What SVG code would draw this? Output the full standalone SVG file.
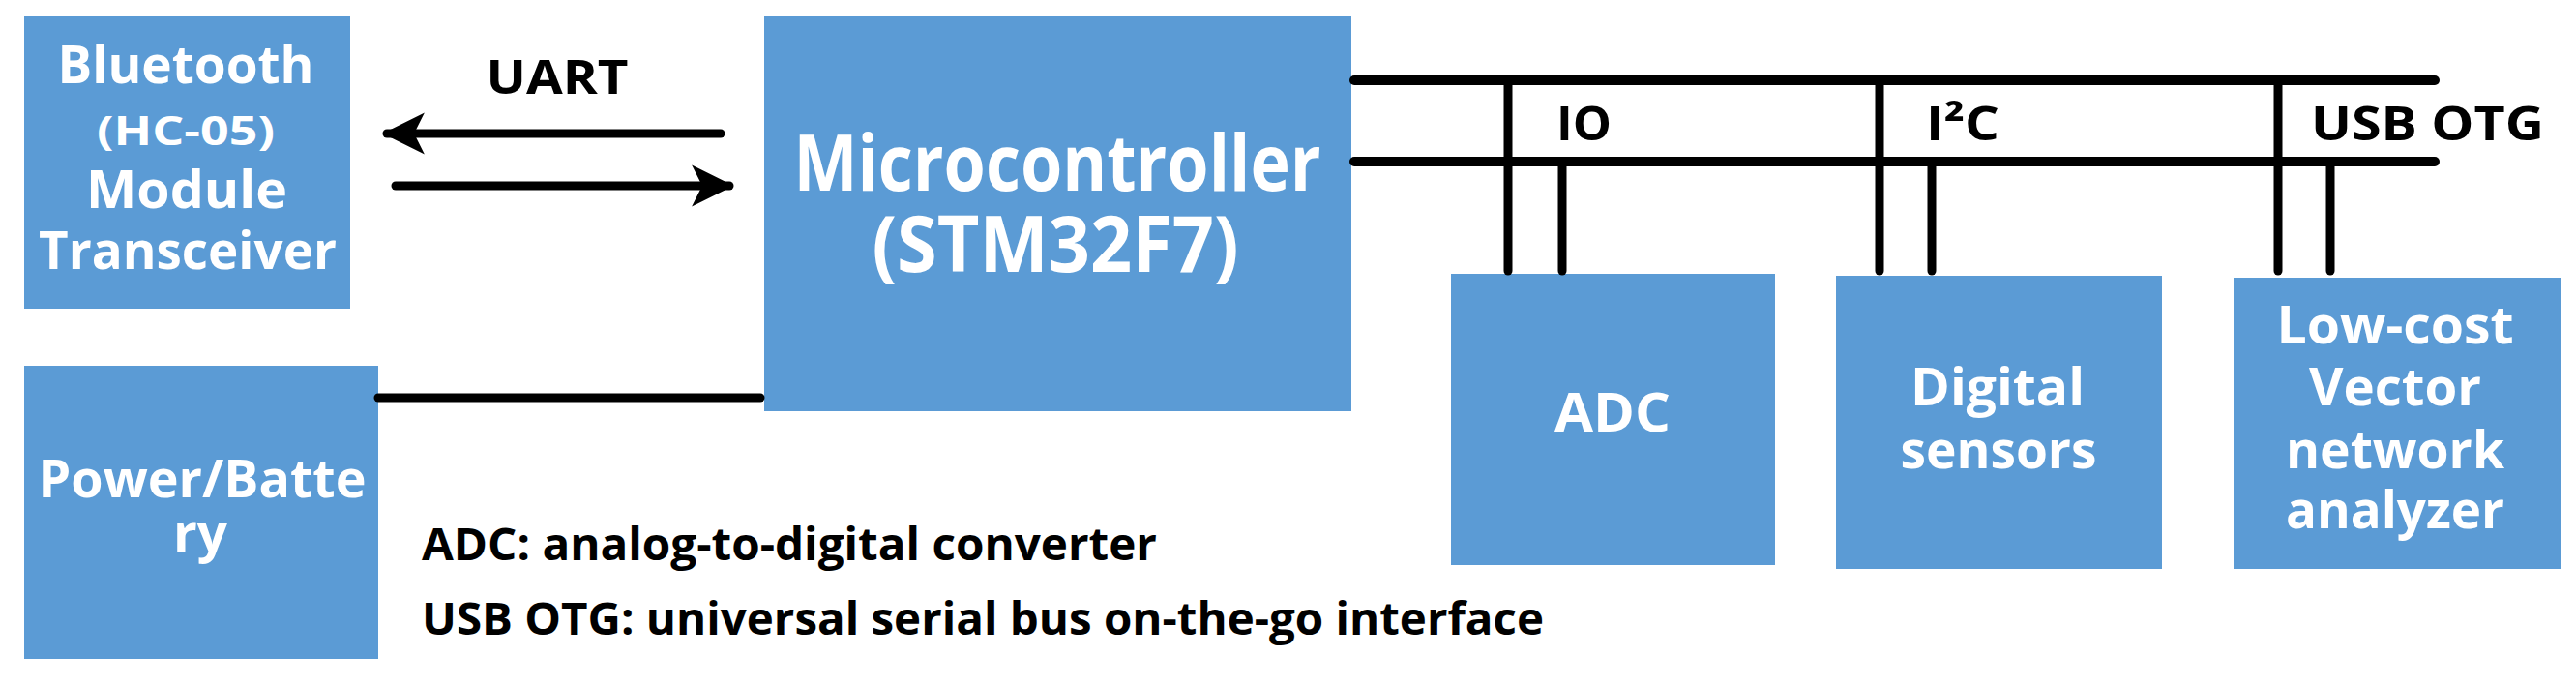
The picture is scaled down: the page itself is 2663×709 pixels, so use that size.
<svg xmlns="http://www.w3.org/2000/svg" width="2663" height="709" viewBox="0 0 2663 709">
<style>
.box{fill:#5B9BD5}
.w{fill:#fff;font-family:"Open Sans","Liberation Sans",sans-serif;font-weight:bold;text-anchor:middle}
.k{fill:#000;font-family:"Open Sans","Liberation Sans",sans-serif;font-weight:bold}
.ln{stroke:#000;stroke-linecap:round;fill:none}
</style>
<defs>
<marker id="ah" viewBox="0 0 10 10" refX="9" refY="5" markerWidth="4.8" markerHeight="4.8" orient="auto-start-reverse" markerUnits="strokeWidth"><path d="M0,0 L10,5 L0,10 L2.5,5 z" fill="#000"/></marker>
</defs>
<rect width="2663" height="709" fill="#fff"/>
<g id="bluetooth"><rect class="box" x="25" y="17" width="337" height="302"/>
<text class="w" x="192" y="86" font-size="54" textLength="265" lengthAdjust="spacingAndGlyphs">Bluetooth</text>
<text class="w" x="192" y="150" font-size="42" textLength="184" lengthAdjust="spacingAndGlyphs">(HC-05)</text>
<text class="w" x="193" y="215" font-size="54" textLength="208" lengthAdjust="spacingAndGlyphs">Module</text>
<text class="w" x="194" y="278" font-size="54" textLength="308" lengthAdjust="spacingAndGlyphs">Transceiver</text></g>
<g id="mcu"><rect class="box" x="790" y="17" width="607" height="408"/>
<text class="w" x="1093" y="197" font-size="80" textLength="545" lengthAdjust="spacingAndGlyphs">Microcontroller</text>
<text class="w" x="1091" y="281" font-size="80" textLength="379" lengthAdjust="spacingAndGlyphs">(STM32F7)</text></g>
<g id="power"><rect class="box" x="25" y="378" width="366" height="303"/>
<text class="w" x="209" y="514" font-size="54" textLength="339" lengthAdjust="spacingAndGlyphs">Power/Batte</text>
<text class="w" x="207" y="570" font-size="54" textLength="56" lengthAdjust="spacingAndGlyphs">ry</text></g>
<g id="adc"><rect class="box" x="1500" y="283" width="335" height="301"/>
<text class="w" x="1667" y="446" font-size="56" textLength="120" lengthAdjust="spacingAndGlyphs">ADC</text></g>
<g id="digital"><rect class="box" x="1898" y="285" width="337" height="303"/>
<text class="w" x="2065" y="419" font-size="54" textLength="180" lengthAdjust="spacingAndGlyphs">Digital</text>
<text class="w" x="2066" y="484" font-size="54" textLength="203" lengthAdjust="spacingAndGlyphs">sensors</text></g>
<g id="vna"><rect class="box" x="2309" y="287" width="339" height="301"/>
<text class="w" x="2476" y="355" font-size="54" textLength="245" lengthAdjust="spacingAndGlyphs">Low-cost</text>
<text class="w" x="2476" y="419" font-size="54" textLength="178" lengthAdjust="spacingAndGlyphs">Vector</text>
<text class="w" x="2476" y="484" font-size="54" textLength="226" lengthAdjust="spacingAndGlyphs">network</text>
<text class="w" x="2476" y="546" font-size="54" textLength="226" lengthAdjust="spacingAndGlyphs">analyzer</text></g>
<g id="connectors">
<line class="ln" x1="745" y1="138" x2="400" y2="138" stroke-width="9" marker-end="url(#ah)"/>
<line class="ln" x1="409" y1="192" x2="754" y2="192" stroke-width="9" marker-end="url(#ah)"/>
<line class="ln" x1="391" y1="411" x2="786" y2="411" stroke-width="9"/>
<line class="ln" x1="1400" y1="83" x2="2517" y2="83" stroke-width="10"/>
<line class="ln" x1="1400" y1="167" x2="2517" y2="167" stroke-width="10"/>
<g class="ln" stroke-width="9">
<line x1="1559" y1="83" x2="1559" y2="280"/><line x1="1615" y1="167" x2="1615" y2="280"/>
<line x1="1943" y1="83" x2="1943" y2="280"/><line x1="1997" y1="167" x2="1997" y2="280"/>
<line x1="2355" y1="83" x2="2355" y2="280"/><line x1="2409" y1="167" x2="2409" y2="280"/>
</g></g>
<text class="k" x="576" y="97" font-size="48" text-anchor="middle" textLength="147" lengthAdjust="spacingAndGlyphs">UART</text>
<text class="k" x="1609" y="145" font-size="48" textLength="57" lengthAdjust="spacingAndGlyphs">IO</text>
<text class="k" x="1991" y="145" font-size="48" textLength="76" lengthAdjust="spacingAndGlyphs">I²C</text>
<text class="k" x="2389" y="145" font-size="48" textLength="241" lengthAdjust="spacingAndGlyphs">USB OTG</text>
<text class="k" x="436" y="579" font-size="46" textLength="760" lengthAdjust="spacingAndGlyphs">ADC: analog-to-digital converter</text>
<text class="k" x="436" y="656" font-size="46" textLength="1160" lengthAdjust="spacingAndGlyphs">USB OTG: universal serial bus on-the-go interface</text>
</svg>
